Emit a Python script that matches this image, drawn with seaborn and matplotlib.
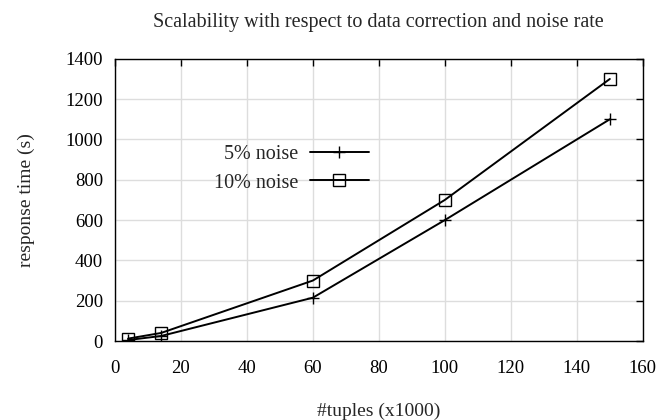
import pandas as pd
import matplotlib
matplotlib.use("Agg")
import matplotlib.pyplot as plt
import seaborn as sns

# values
tuples = [4, 14, 60, 100, 150]
noise_5 = [5, 25, 215, 600, 1100]
noise_10 = [12, 40, 300, 700, 1300]
series_names = ["5% noise", "10% noise"]
series_markers = ["+", "s"]

sns.set_style("white")
plt.rcParams["font.family"] = ["Liberation Serif", "DejaVu Serif"]

fig = plt.figure(figsize=(6.6, 4.2), dpi=100)
ax = fig.add_axes([0.174, 0.188, 0.800, 0.672])

for name, vals, mk in zip(series_names, [noise_5, noise_10], series_markers):
    sns.lineplot(x=tuples, y=vals, color="black", linewidth=1.4,
                 marker=mk, markersize=9, markeredgewidth=1.0,
                 markerfacecolor="none", markeredgecolor="black",
                 label=name, ax=ax)

ax.set_xlim(0, 160)
ax.set_ylim(0, 1400)
ax.set_xticks(range(0, 161, 20))
ax.set_yticks(range(0, 1401, 200))
ax.grid(True, color="#dddddd", linewidth=1.0)
ax.set_axisbelow(True)
for s in ax.spines.values():
    s.set_color("black")
    s.set_linewidth(1.0)
ax.tick_params(direction="in", top=True, right=True, length=5, width=1.0,
               labelsize=13.5, colors="black")
ax.tick_params(axis="x", pad=13.5)
ax.tick_params(axis="y", pad=8.5)

ax.set_xlabel("#tuples (x1000)", fontsize=14, labelpad=18.5)
ax.set_ylabel("response time (s)", fontsize=14, labelpad=22)
ax.set_title("Scalability with respect to data correction and noise rate",
             fontsize=14.5, pad=23)

ax.legend(loc="center right", bbox_to_anchor=(0.515, 0.61), frameon=False,
          markerfirst=False, fontsize=14.5, handlelength=2.9, labelspacing=0.45,
          handletextpad=0.6)

fig.savefig("out.png", dpi=100)
